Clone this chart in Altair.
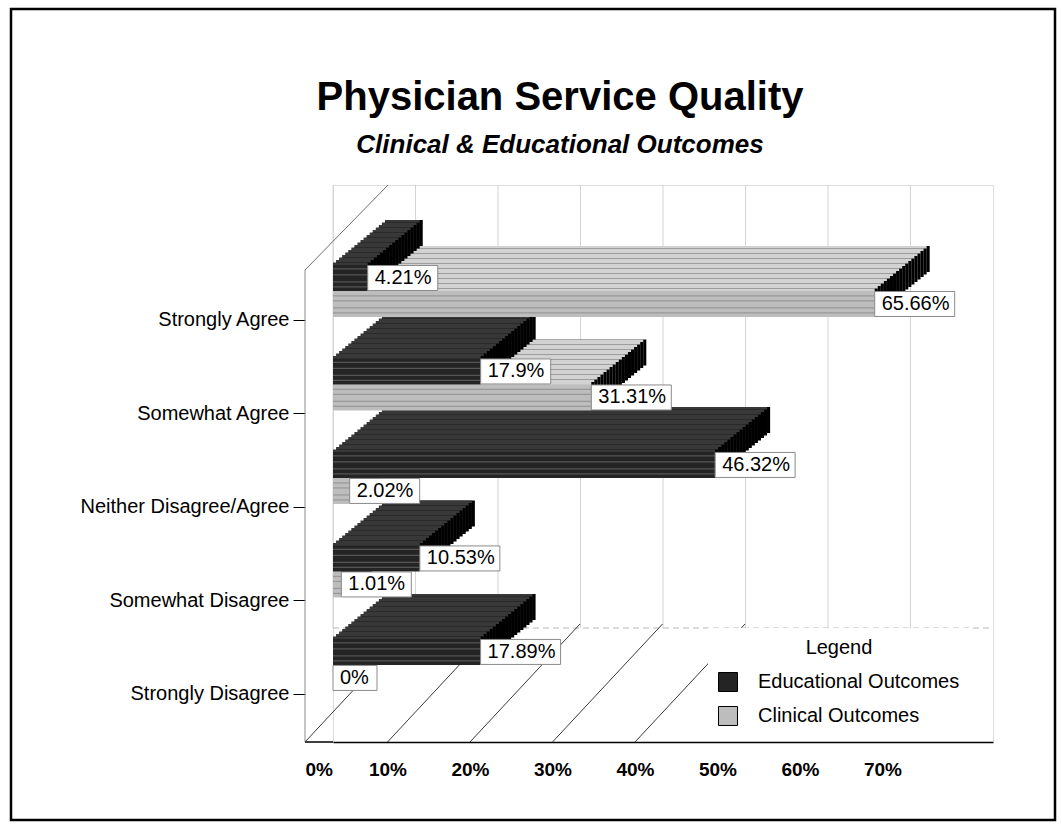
import altair as alt
import pandas as pd

# ---------------- data ----------------
categories = ["Strongly Agree", "Somewhat Agree", "Neither Disagree/Agree",
              "Somewhat Disagree", "Strongly Disagree"]
series_names = ["Educational Outcomes", "Clinical  Outcomes"]
educational = [4.21, 17.9, 46.32, 10.53, 17.89]
clinical = [65.66, 31.31, 2.02, 1.01, 0]
tick_values = [0, 10, 20, 30, 40, 50, 60, 70]

rows = []
for c, e, k in zip(categories, educational, clinical):
    rows.append({"category": c, "series": series_names[0], "value": e})
    rows.append({"category": c, "series": series_names[1], "value": k})
df = pd.DataFrame(rows)
df["label"] = df["value"].map(lambda v: f"{v:g}%")
df["nchar"] = df["label"].str.len()
ticks_df = pd.DataFrame({"tick": tick_values})

# ---------------- style ----------------
FONT = "Liberation Sans"
EDU_FRONT, EDU_TOP, EDU_STREAK = "#242424", "#383838", "#555555"
CLIN_FRONT, CLIN_TOP, CLIN_STREAK = "#bdbdbd", "#d2d2d2", "#999999"
STEPS = 18
DX, DY = 55.0 / STEPS, 45.0 / STEPS
BAR_H = 26
cfg = {
    series_names[0]: dict(yoff=-13, top=EDU_TOP, streak=EDU_STREAK, lines=[-22, -16, -9, -4]),
    series_names[1]: dict(yoff=13, top=CLIN_TOP, streak=CLIN_STREAK, lines=[5, 10, 17, 22]),
}

x_scale = alt.Scale(domain=[0, 80], nice=False, zero=True)
x_axis = alt.Axis(values=tick_values, labelExpr="datum.value + '%'", labelOffset=-28,
                  labelPadding=18, ticks=False, domainColor="black", domainWidth=1.5,
                  grid=False, labelFont=FONT, labelFontSize=19,
                  labelFontWeight="bold", labelColor="black", title=None)
x_enc = alt.X("value:Q", scale=x_scale, axis=x_axis)
x_tick = alt.X("tick:Q", scale=x_scale, axis=x_axis)
y_enc = alt.Y(
    "category:N", sort=categories,
    scale=alt.Scale(paddingInner=0.5, paddingOuter=0.729, align=0.606),
    axis=alt.Axis(offset=28, tickOffset=29, tickSize=12, tickColor="black",
                  domain=False, labelPadding=4, labelFont=FONT, labelFontSize=20,
                  labelColor="black", title=None, labelLimit=400),
)
color_enc = alt.Color(
    "series:N",
    scale=alt.Scale(domain=series_names, range=[EDU_FRONT, CLIN_FRONT]),
    legend=alt.Legend(orient="none", legendX=375, legendY=443, title="Legend",
                      titleAnchor="middle", titleFont=FONT, titleFontSize=20,
                      titleFontWeight="normal", titleColor="black", titlePadding=14,
                      labelFont=FONT, labelFontSize=20, labelColor="black", labelLimit=400,
                      symbolType="square", symbolSize=360, symbolStrokeColor="black",
                      symbolStrokeWidth=1, symbolOpacity=1, rowPadding=10, labelOffset=20,
                      padding=10, fillColor="white"),
)

one = pd.DataFrame({"f": [0]})
base = alt.Chart(df)
layers = []

# back wall gridlines (down to the back edge of the floor)
layers.append(
    alt.Chart(ticks_df).mark_rule(color="#d4d4d4", strokeWidth=1)
    .encode(x=x_tick, y=alt.value(0), y2=alt.value(443))
)
# back edge of the floor
layers.append(
    alt.Chart(one).mark_rule(color="#b8b8b8", strokeWidth=1, strokeDash=[6, 4])
    .encode(x=alt.value(0), x2=alt.value(660), y=alt.value(443))
)
# 3D box edges: front-left edge, top-left slanted edge, front bottom edge
layers.append(
    alt.Chart(one).mark_rule(color="#8c8c8c", strokeWidth=1)
    .encode(x=alt.value(-28), y=alt.value(85), y2=alt.value(557))
)
layers.append(
    alt.Chart(one).mark_rule(color="#6e6e6e", strokeWidth=1)
    .encode(x=alt.value(-28), x2=alt.value(55), y=alt.value(85), y2=alt.value(0))
)
layers.append(
    alt.Chart(one).mark_rule(color="black", strokeWidth=1.5)
    .encode(x=alt.value(-28), x2=alt.value(0), y=alt.value(557))
)
# floor lines running back from the front tick marks
layers.append(
    alt.Chart(ticks_df).transform_filter("datum.tick <= 40")
    .mark_rule(color="#3a3a3a", strokeWidth=1, xOffset=-28, x2Offset=82)
    .encode(x=x_tick, x2="tick:Q", y=alt.value(557), y2=alt.value(439))
)

# 3D extrusion (top face + black side face), drawn from back to front
for s in [series_names[1], series_names[0]]:
    sub = base.transform_filter(f"datum.series == '{s}' && datum.value > 0")
    for k in range(STEPS, 0, -1):
        oy = cfg[s]["yoff"] - k * DY
        layers.append(sub.mark_bar(height=BAR_H, color="black", xOffset=k * DX,
                                   x2Offset=k * DX, yOffset=oy, y2Offset=oy)
                      .encode(x=x_enc, y=y_enc))
        layers.append(sub.mark_bar(height=BAR_H, color=cfg[s]["top"], xOffset=(k - 1) * DX,
                                   x2Offset=k * DX, yOffset=oy, y2Offset=oy)
                      .encode(x=x_enc, y=y_enc))

# front faces with a few horizontal streaks
for s in [series_names[1], series_names[0]]:
    sub = base.transform_filter(f"datum.series == '{s}'")
    layers.append(sub.mark_bar(height=BAR_H, yOffset=cfg[s]["yoff"], y2Offset=cfg[s]["yoff"],
                               opacity=1)
                  .encode(x=x_enc, y=y_enc, color=color_enc))
    for ly in cfg[s]["lines"]:
        layers.append(sub.mark_bar(height=1.2, color=cfg[s]["streak"], yOffset=ly, y2Offset=ly)
                      .encode(x=x_enc, y=y_enc))

# label boxes
box_w = {2: 44, 5: 70, 6: 80}
for s in series_names:
    for n, w in box_w.items():
        sub = base.transform_filter(f"datum.series == '{s}' && datum.nchar == {n}")
        layers.append(sub.mark_bar(height=25, fill="white", stroke="#8a8a8a", strokeWidth=1,
                                   xOffset=w, yOffset=cfg[s]["yoff"], y2Offset=cfg[s]["yoff"])
                      .encode(x=x_enc, x2="value:Q", y=y_enc))

# label texts
for s in series_names:
    sub = base.transform_filter(f"datum.series == '{s}'")
    layers.append(sub.mark_text(align="left", baseline="middle", dx=7, font=FONT, fontSize=20,
                                color="black", yOffset=cfg[s]["yoff"])
                  .encode(x=x_enc, y=y_enc, text="label:N"))

# outer frame of the figure
layers.append(
    alt.Chart(one).mark_rect(fill="transparent", stroke="black", strokeWidth=2.5)
    .encode(x=alt.value(-322), x2=alt.value(722), y=alt.value(-176), y2=alt.value(635))
)

chart = alt.layer(*layers).properties(
    width=660, height=557,
    autosize=alt.AutoSizeParams(type="none"),
    padding={"left": 333, "top": 185, "right": 69, "bottom": 82},
    title=alt.TitleParams(
        text="Physician Service Quality", subtitle="Clinical & Educational Outcomes",
        font=FONT, fontSize=40, fontWeight="bold", color="black",
        subtitleFont=FONT, subtitleFontSize=26, subtitleFontStyle="italic",
        subtitleFontWeight="bold", subtitleColor="black", subtitlePadding=14,
        anchor="middle", dx=-103, offset=-150,
    ),
).configure_view(stroke="#a0a0a0", strokeWidth=1).configure(background="white")

chart.save("out.html", embed_options={"renderer": "svg", "actions": False})
